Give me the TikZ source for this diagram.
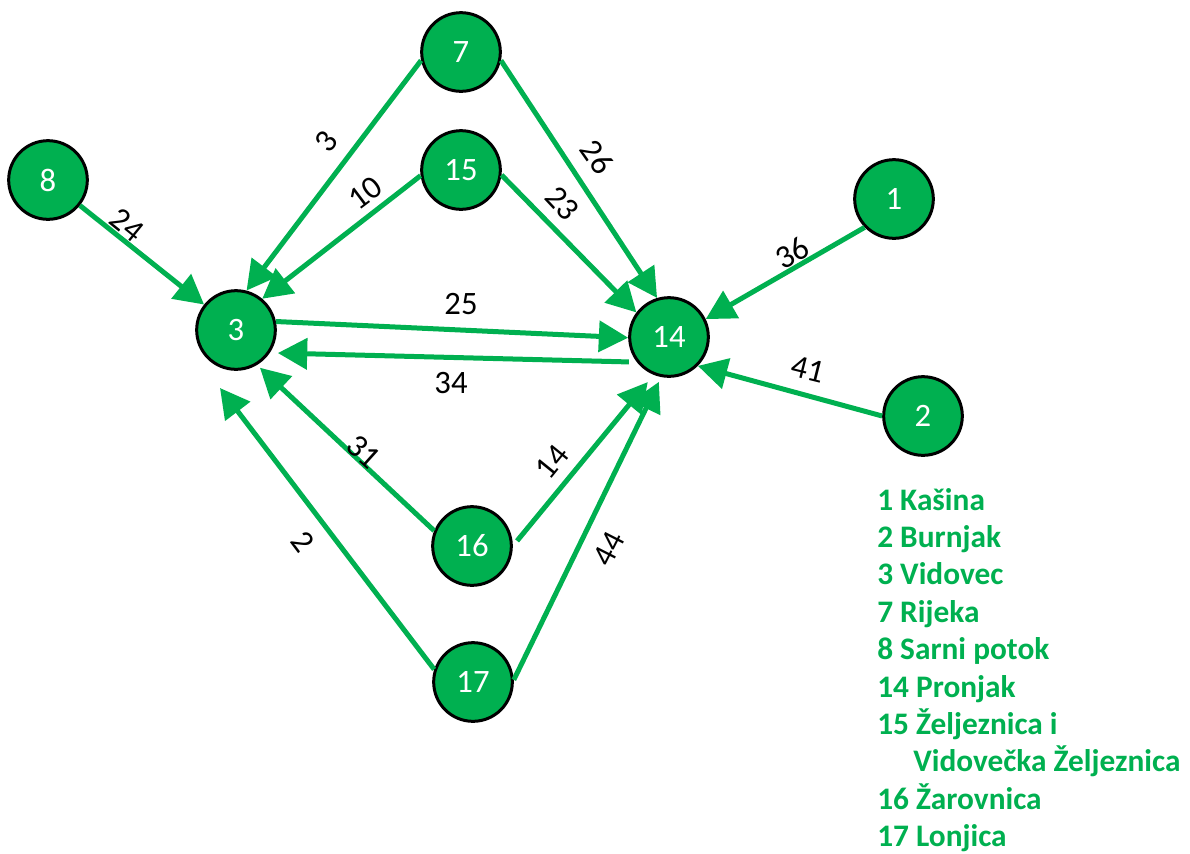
\documentclass[tikz,border=0pt]{standalone}
\usepackage{fontspec}
\setmainfont{Carlito}
\usetikzlibrary{arrows.meta}
\definecolor{gr}{HTML}{00B050}
\begin{document}
\begin{tikzpicture}[x=0.75pt,y=-0.75pt,
  city/.style={circle,fill=gr,draw=black,line width=2.25pt,minimum size=59pt,inner sep=0pt,text=white,font=\fontsize{24.5}{28}\selectfont},
  road/.style={draw=gr,line width=3.75pt,-{Triangle[length=22pt,width=23pt]}},
  wlab/.style={font=\fontsize{24.5}{28}\selectfont,inner sep=0pt,text=black},
  legtxt/.style={font=\bfseries\fontsize{23.5}{28}\selectfont,text=gr,inner sep=0pt,anchor=base west}]
\useasboundingbox (0,0) rectangle (1190,854);
% cities
\node[city] (n7) at (461,52) {7};
\node[city] (n15) at (461,170) {15};
\node[city] (n8) at (48,180) {8};
\node[city] (n3) at (236,330) {3};
\node[city] (n14) at (669,337) {14};
\node[city] (n1) at (894,199) {1};
\node[city] (n2) at (923,416) {2};
\node[city] (n16) at (472,546) {16};
\node[city] (n17) at (473,682) {17};
% roads
\draw[road] (n8) -- (n3);
\draw[road] (n7.192) -- (n3.75);
\draw[road] (n15.188) -- (n3.50);
\draw[road] (n7.-12) -- (n14.107);
\draw[road] (n15.-7) -- (n14.143);
\draw[road] (n1.224) -- (n14.26);
\draw[road] (n2.180) -- (n14.-45);
\draw[road] (n3.12) -- (n14.181);
\draw[road,shorten <=6pt,shorten >=6pt] (n14.218) -- (n3.-34);
\draw[road,shorten >=3pt] (n16.158) -- (n3.-59);
\draw[road,shorten <=5pt,shorten >=7pt] (n16.0) -- (n14.248);
\draw[road] (n17.162) -- ([shift={(-16,58)}]n3.center);
\draw[road,shorten >=4pt] (n17.3) -- (n14.259);
% weights
\node[wlab,rotate=-39] (w24) at (127,225) {24};
\node[wlab,rotate=52] (w3) at (326,142) {3};
\node[wlab,rotate=37] (w10) at (365,193) {10};
\node[wlab,rotate=-55] (w26) at (597,157) {26};
\node[wlab,rotate=-47] (w23) at (562,203) {23};
\node[wlab,rotate=30] (w36) at (792,253) {36};
\node[wlab,rotate=-14] (w41) at (808,369) {41};
\node[wlab] (w25) at (461,304) {25};
\node[wlab] (w34) at (451,383) {34};
\node[wlab,rotate=-42] (w31) at (364,452) {31};
\node[wlab,rotate=51] (w14) at (552,462) {14};
\node[wlab,rotate=-53] (w2) at (303,542) {2};
\node[wlab,rotate=63] (w44) at (609,549) {44};
% legend
\node[legtxt] (l1) at (877,510) {1 Kašina};
\node[legtxt] (l2) at (877,547.4) {2 Burnjak};
\node[legtxt] (l3) at (877,584.8) {3 Vidovec};
\node[legtxt] (l4) at (877,622.2) {7 Rijeka};
\node[legtxt] (l5) at (877,659.6) {8 Sarni potok};
\node[legtxt] (l6) at (877,697) {14 Pronjak};
\node[legtxt] (l7) at (877,734.4) {15 Željeznica i};
\node[legtxt] (l8) at (913,771.8) {Vidovečka Željeznica};
\node[legtxt] (l9) at (877,809.2) {16 Žarovnica};
\node[legtxt] (l10) at (877,846.6) {17 Lonjica};
\end{tikzpicture}
\end{document}
